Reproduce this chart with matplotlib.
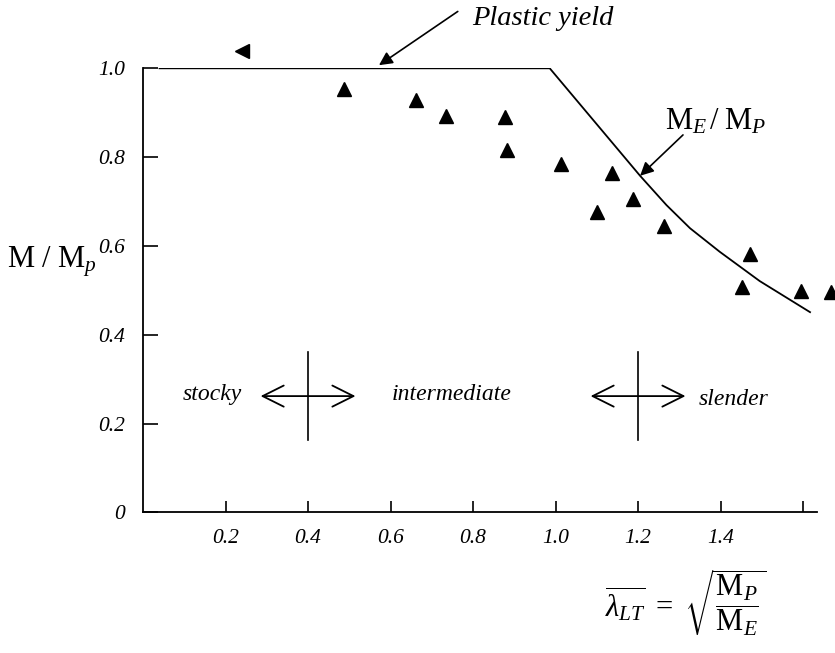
import matplotlib
matplotlib.use("Agg")
import matplotlib.pyplot as plt

plt.rcParams['font.family'] = ['Liberation Serif', 'DejaVu Serif']
plt.rcParams['mathtext.fontset'] = 'custom'
plt.rcParams['mathtext.rm'] = 'Liberation Serif'
plt.rcParams['mathtext.it'] = 'Liberation Serif:italic'

# ---- data ----
# design curve: plastic plateau, then elastic buckling M_E/M_P
curve_x = [0.04, 0.986, 1.205, 1.269, 1.326, 1.398, 1.495, 1.617]
curve_y = [1.0, 1.0, 0.758, 0.692, 0.640, 0.587, 0.521, 0.451]

# test results
test_x = [0.487, 0.661, 0.734, 0.878, 0.883, 1.013, 1.136, 1.187,
          1.101, 1.263, 1.471, 1.451, 1.596, 1.669]
test_y = [0.953, 0.929, 0.893, 0.890, 0.815, 0.784, 0.765, 0.706,
          0.676, 0.646, 0.582, 0.507, 0.499, 0.497]
odd_x = [0.239]   # the one drawn as a left-pointing marker
odd_y = [1.04]

x_ticks = [0.2, 0.4, 0.6, 0.8, 1.0, 1.2, 1.4, 1.6]
x_labels = ['0.2', '0.4', '0.6', '0.8', '1.0', '1.2', '1.4', '']
y_ticks = [0, 0.2, 0.4, 0.6, 0.8, 1.0]
y_labels = ['0', '0.2', '0.4', '0.6', '0.8', '1.0']

# slenderness zone limits
zone_x = [0.4, 1.2]
zone_names = ['stocky', 'intermediate', 'slender']

fig = plt.figure(figsize=(8.35, 6.53), dpi=100)
ax = fig.add_axes([0.1713, 0.2152, 0.8072, 0.6802])
ax.set_xlim(0, 1.634)
ax.set_ylim(0, 1.0)

ax.plot(curve_x, curve_y, color='black', lw=1.3)
ax.plot(test_x, test_y, linestyle='none', marker='^', ms=9.5, color='black', clip_on=False)
ax.plot(odd_x, odd_y, linestyle='none', marker='<', ms=9.5, color='black', clip_on=False)

for s in ['top', 'right']:
    ax.spines[s].set_visible(False)
for s in ['left', 'bottom']:
    ax.spines[s].set_linewidth(1.3)

ax.set_xticks(x_ticks)
ax.set_xticklabels(x_labels, fontstyle='italic', fontsize=15.5)
ax.set_yticks(y_ticks)
ax.set_yticklabels(y_labels, fontstyle='italic', fontsize=15.5)
ax.tick_params(axis='x', direction='in', length=8, width=1.2, pad=12)
ax.tick_params(axis='y', direction='in', length=11, width=1.2, pad=13)

# zone markers: vertical bar with a double arrow
for zx in zone_x:
    ax.plot([zx, zx], [0.163, 0.361], color='black', lw=1.2)
    ax.annotate('', xy=(zx - 0.115, 0.262), xytext=(zx + 0.115, 0.262),
                arrowprops=dict(arrowstyle='<->,head_length=0.4,head_width=0.2',
                                mutation_scale=38, lw=1.3, color='black',
                                shrinkA=0, shrinkB=0))
ax.text(0.168, 0.265, zone_names[0], fontstyle='italic', fontsize=17, ha='center', va='center')
ax.text(0.748, 0.265, zone_names[1], fontstyle='italic', fontsize=17, ha='center', va='center')
ax.text(1.346, 0.254, zone_names[2], fontstyle='italic', fontsize=17, ha='left', va='center')

# callouts
ax.annotate('', xy=(0.572, 1.007), xytext=(0.763, 1.128), annotation_clip=False,
            arrowprops=dict(arrowstyle='-|>', mutation_scale=20, lw=1.2, color='black',
                            shrinkA=0, shrinkB=0))
ax.text(0.797, 1.097, 'Plastic yield', fontstyle='italic', fontsize=20.5, va='baseline',
        clip_on=False)
ax.annotate('', xy=(1.205, 0.758), xytext=(1.309, 0.850), annotation_clip=False,
            arrowprops=dict(arrowstyle='-|>', mutation_scale=20, lw=1.2, color='black',
                            shrinkA=0, shrinkB=0))
ax.text(1.265, 0.863, r'$\mathrm{M}_E\,/\;\mathrm{M}_P$', fontsize=22, va='baseline',
        clip_on=False)

fig.text(52 / 835, 1 - 262 / 653, r'$\mathrm{M}\ /\ \mathrm{M}_p$', fontsize=22,
         ha='center', va='center')
fig.text(686 / 835, 1 - 603 / 653,
         r'$\overline{\lambda_{LT}}\ =\ \sqrt{\dfrac{\mathrm{M}_{P}}{\mathrm{M}_{E}}}$',
         fontsize=22, ha='center', va='center')

fig.savefig('out.png', dpi=100)
